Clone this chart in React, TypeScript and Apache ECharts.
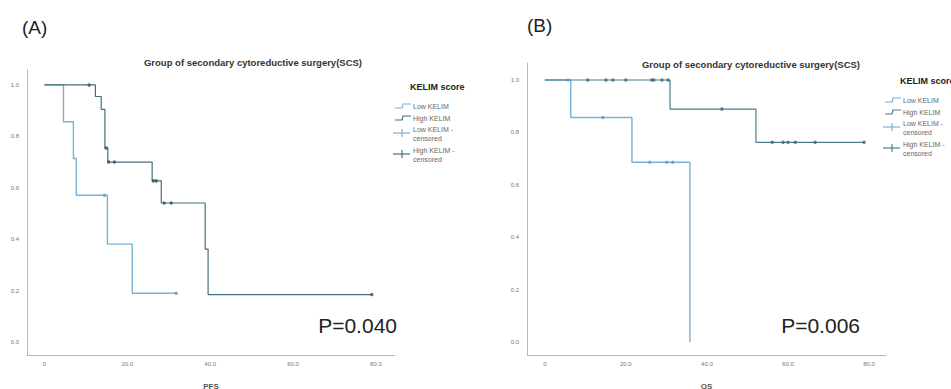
import React, { useEffect, useRef } from "react";
import * as echarts from "echarts";

// ---- Panel A (PFS) ----
const A_LOW_T = [0, 4.6, 7.0, 7.7, 15.2, 21.2, 31.8];
const A_LOW_S = [1, 0.857, 0.714, 0.571, 0.381, 0.19, 0.19];
const A_LOW_CENS_T = [14.5, 31.8];
const A_LOW_CENS_S = [0.571, 0.19];

const A_HIGH_T = [0, 12.3, 13.7, 14.6, 15.3, 26.0, 28.2, 38.8, 39.5, 79.0];
const A_HIGH_S = [1, 0.955, 0.905, 0.755, 0.7, 0.627, 0.541, 0.362, 0.185, 0.185];
const A_HIGH_CENS_T = [10.8, 14.9, 15.5, 16.9, 26.3, 27.0, 28.9, 30.6, 79.0];
const A_HIGH_CENS_S = [1, 0.755, 0.7, 0.7, 0.627, 0.627, 0.541, 0.541, 0.185];

// ---- Panel B (OS) ----
const B_LOW_T = [0, 6.4, 21.5, 35.8];
const B_LOW_S = [1, 0.857, 0.686, 0];
const B_LOW_CENS_T = [5.7, 14.3, 25.9, 30.1, 31.6];
const B_LOW_CENS_S = [1, 0.857, 0.686, 0.686, 0.686];

const B_HIGH_T = [0, 30.9, 52.1, 78.8];
const B_HIGH_S = [1, 0.889, 0.762, 0.762];
const B_HIGH_CENS_T = [10.6, 15.1, 16.8, 20.0, 26.4, 26.9, 28.9, 30.4, 43.7, 56.1, 58.8, 60.0, 61.8, 66.7, 78.8];
const B_HIGH_CENS_S = [1, 1, 1, 1, 1, 1, 1, 1, 0.889, 0.762, 0.762, 0.762, 0.762, 0.762, 0.762];

const X_TICKS = [0, 20, 40, 60, 80];
const Y_TICKS = [0, 0.2, 0.4, 0.6, 0.8, 1.0];

const TITLE = "Group of secondary cytoreductive surgery(SCS)";
const LEGEND_TITLE = "KELIM score";
const P_A = "P=0.040";
const P_B = "P=0.006";

const LOW_COLOR = "#78b2d4";
const HIGH_A_COLOR = "#44707a";
const HIGH_B_COLOR = "#4b7d8c";
const FONT = "Liberation Sans, Arial, sans-serif";

const zip = (t: number[], s: number[]) => t.map((v, i) => [v, s[i]]);

function xAxis(grid: number, min: number, max: number, name: string) {
  return {
    gridIndex: grid,
    type: "value",
    min,
    max,
    axisLine: { show: true, onZero: false, lineStyle: { color: "#b8b8b8", width: 1 } },
    axisTick: { show: false },
    splitLine: { show: false },
    axisLabel: {
      customValues: X_TICKS,
      formatter: (v: number) => (v === 0 ? "0" : v.toFixed(1)),
      fontSize: 6,
      color: "#777",
      margin: 6,
      fontFamily: FONT,
    },
    name,
    nameLocation: "middle",
    nameGap: 27,
    nameTextStyle: { fontSize: 8, fontWeight: "bold", color: "#555", fontFamily: FONT },
  };
}

function yAxis(grid: number, max: number) {
  return {
    gridIndex: grid,
    type: "value",
    min: -0.05,
    max,
    axisLine: { show: true, onZero: false, lineStyle: { color: "#b8b8b8", width: 1 } },
    axisTick: { show: false },
    splitLine: { show: false },
    axisLabel: {
      customValues: Y_TICKS,
      formatter: (v: number) => v.toFixed(1),
      fontSize: 6,
      color: "#777",
      margin: 8,
      fontFamily: FONT,
    },
  };
}

function line(t: number[], s: number[], color: string, idx: number, width: number) {
  return {
    type: "line",
    xAxisIndex: idx,
    yAxisIndex: idx,
    data: zip(t, s),
    step: "end",
    symbol: "none",
    lineStyle: { color, width },
    z: 2,
  };
}

function cens(t: number[], s: number[], color: string, idx: number) {
  return {
    type: "scatter",
    xAxisIndex: idx,
    yAxisIndex: idx,
    data: zip(t, s),
    symbol: "circle",
    symbolSize: 3.5,
    itemStyle: { color },
    z: 3,
  };
}

function legend(x: number, y: number, highColor: string) {
  const tx = x + 18;
  const txt = (text: string, yy: number) => ({
    type: "text",
    x: tx,
    y: yy,
    style: { text, fontSize: 7, fill: "#666", fontFamily: FONT, verticalAlign: "middle" },
  });
  const stepIcon = (yy: number, color: string) => ({
    type: "polyline",
    shape: { points: [[x, yy + 2], [x + 7, yy + 2], [x + 8, yy - 2], [x + 16, yy - 2]] },
    style: { stroke: color, lineWidth: 1.2, fill: null },
  });
  const plusIcon = (yy: number, color: string) => ({
    type: "group",
    children: [
      { type: "line", shape: { x1: x - 2, y1: yy, x2: x + 15, y2: yy }, style: { stroke: color, lineWidth: 1.2 } },
      { type: "line", shape: { x1: x + 7, y1: yy - 4, x2: x + 7, y2: yy + 4 }, style: { stroke: color, lineWidth: 1.2 } },
    ],
  });
  return [
    {
      type: "text",
      x: x + 15,
      y,
      style: { text: LEGEND_TITLE, fontSize: 9, fontWeight: "bold", fill: "#222", fontFamily: FONT, verticalAlign: "middle" },
    },
    stepIcon(y + 19, LOW_COLOR),
    txt("Low KELIM", y + 19),
    stepIcon(y + 31, highColor),
    txt("High KELIM", y + 31),
    plusIcon(y + 46, LOW_COLOR),
    txt("Low KELIM -", y + 42),
    txt("censored", y + 51),
    plusIcon(y + 67, highColor),
    txt("High KELIM -", y + 63),
    txt("censored", y + 72),
  ];
}

export default function App() {
  const ref = useRef<HTMLDivElement>(null);
  useEffect(() => {
    if (!ref.current) return;
    const chart = echarts.init(ref.current, null, { renderer: "svg" });
    chart.setOption({
      animation: false,
      backgroundColor: "#ffffff",
      grid: [
        { left: 27, top: 70, width: 368, height: 285, outerBoundsMode: "none" },
        { left: 527, top: 63, width: 359, height: 292, outerBoundsMode: "none" },
      ],
      xAxis: [xAxis(0, -4.2, 84.6, "PFS"), xAxis(1, -4.4, 84.2, "OS")],
      yAxis: [yAxis(0, 1.058), yAxis(1, 1.065)],
      series: [
        line(A_LOW_T, A_LOW_S, LOW_COLOR, 0, 1.4),
        line(A_HIGH_T, A_HIGH_S, HIGH_A_COLOR, 0, 1.2),
        cens(A_LOW_CENS_T, A_LOW_CENS_S, "#5f9fc4", 0),
        cens(A_HIGH_CENS_T, A_HIGH_CENS_S, "#2f5a62", 0),
        line(B_LOW_T, B_LOW_S, LOW_COLOR, 1, 1.4),
        line(B_HIGH_T, B_HIGH_S, HIGH_B_COLOR, 1, 1.2),
        cens(B_LOW_CENS_T, B_LOW_CENS_S, "#5f9fc4", 1),
        cens(B_HIGH_CENS_T, B_HIGH_CENS_S, "#3a6a78", 1),
      ],
      graphic: [
        { type: "text", x: 22, y: 27, style: { text: "(A)", fontSize: 19, fill: "#222", fontFamily: FONT, verticalAlign: "middle" } },
        { type: "text", x: 527, y: 25, style: { text: "(B)", fontSize: 19, fill: "#222", fontFamily: FONT, verticalAlign: "middle" } },
        { type: "text", x: 253, y: 62, style: { text: TITLE, fontSize: 9.5, fontWeight: "bold", fill: "#333", fontFamily: FONT, align: "center", verticalAlign: "middle" } },
        { type: "text", x: 751, y: 64, style: { text: TITLE, fontSize: 9.5, fontWeight: "bold", fill: "#333", fontFamily: FONT, align: "center", verticalAlign: "middle" } },
        { type: "text", x: 397, y: 325, style: { text: P_A, fontSize: 21, fill: "#222", fontFamily: FONT, align: "right", verticalAlign: "middle" } },
        { type: "text", x: 860, y: 325, style: { text: P_B, fontSize: 21, fill: "#222", fontFamily: FONT, align: "right", verticalAlign: "middle" } },
        ...legend(395, 87, HIGH_A_COLOR),
        ...legend(885, 81, HIGH_B_COLOR),
      ],
    });
    return () => chart.dispose();
  }, []);
  return (
    <div
      ref={ref}
      style={{ position: "fixed", left: 0, top: 0, width: 951, height: 389, background: "#fff" }}
    />
  );
}
